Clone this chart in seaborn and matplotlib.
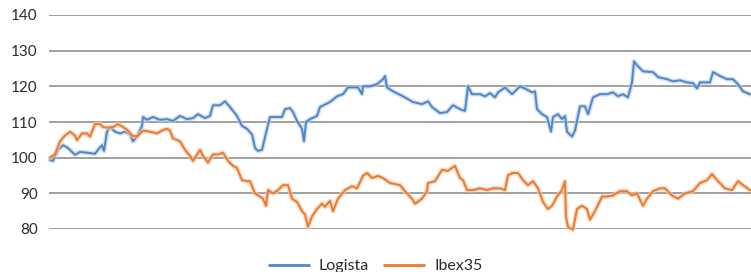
import numpy as np
import pandas as pd
import matplotlib
matplotlib.use("Agg")
import matplotlib.pyplot as plt
import matplotlib.patheffects as pe
from matplotlib.lines import Line2D
import seaborn as sns

# ---- data ----
logista_day = [0, 3, 8, 13, 18, 25, 30, 37, 45, 48, 52, 54, 57, 60, 65, 70, 75, 80, 83, 87,
               92, 93, 97, 103, 110, 117, 123, 130, 137, 143, 148, 155, 160, 163, 170, 175, 180,
               187, 192, 197, 202, 205, 208, 212, 217, 220, 227, 232, 235, 240, 243, 247, 252,
               254, 256, 260, 267, 270, 280, 287, 293, 298, 308, 312, 313, 320, 327, 333, 335,
               337, 343, 353, 363, 372, 378, 382, 390, 397, 403, 410, 415, 418, 422, 430, 435,
               440, 445, 448, 455, 462, 470, 477, 482, 485, 487, 492, 497, 501, 503, 508, 512,
               515, 517, 522, 525, 530, 535, 538, 543, 550, 557, 563, 568, 573, 578, 582, 584,
               588, 593, 603, 608, 617, 623, 630, 637, 643, 647, 650, 660, 663, 670, 677, 683,
               688, 693, 700]
logista_val = [99.4, 99.1, 102.2, 103.5, 102.7, 100.8, 101.6, 101.4, 101.1, 102.2, 103.5, 101.9,
               107.3, 108.6, 107.3, 106.8, 107.3, 106.5, 104.6, 105.9, 108.9, 111.4, 110.6, 111.4,
               110.6, 110.8, 110.3, 111.7, 110.8, 111.1, 112.2, 111.1, 111.7, 114.7, 114.7, 115.8,
               114.2, 111.7, 108.9, 108.1, 106.5, 102.7, 101.9, 102.2, 108.1, 111.4, 111.4, 111.4,
               113.6, 113.9, 112.8, 110.3, 108.1, 104.6, 110.0, 110.8, 111.7, 114.2, 115.6, 117.2,
               117.8, 119.7, 119.7, 117.8, 120.0, 120.0, 120.6, 122.0, 122.9, 119.7, 118.6, 117.2,
               115.6, 115.0, 115.8, 114.2, 112.5, 112.8, 114.7, 113.6, 113.1, 120.0, 117.8, 117.8,
               117.2, 118.1, 116.9, 118.3, 119.7, 117.8, 120.0, 119.1, 118.3, 118.6, 113.6, 112.2,
               111.4, 107.3, 111.4, 112.2, 110.8, 111.7, 107.3, 105.9, 107.6, 114.4, 114.4, 112.2,
               116.9, 117.8, 117.8, 118.3, 117.2, 117.8, 116.9, 121.1, 127.0, 125.6, 124.2, 124.0,
               122.6, 122.0, 121.4, 121.7, 121.1, 120.9, 119.4, 121.1, 121.1, 124.0, 122.9, 122.0,
               122.0, 120.6, 118.6, 117.8]

ibex_day = [0, 5, 10, 15, 20, 25, 27, 32, 37, 40, 45, 50, 53, 58, 63, 68, 73, 78, 82, 87, 93,
            100, 107, 112, 117, 120, 123, 130, 135, 140, 143, 147, 150, 153, 158, 163, 168, 173,
            178, 183, 187, 192, 197, 200, 205, 210, 213, 216, 218, 223, 228, 233, 238, 242, 247,
            252, 255, 258, 262, 267, 272, 275, 280, 283, 288, 295, 302, 307, 313, 317, 322, 328,
            333, 340, 350, 355, 362, 365, 372, 377, 378, 385, 392, 398, 405, 410, 413, 417, 423,
            430, 437, 443, 450, 455, 458, 463, 468, 473, 478, 483, 488, 493, 498, 502, 507, 512,
            515, 516, 518, 523, 527, 532, 537, 540, 545, 552, 557, 563, 570, 577, 582, 587, 593,
            597, 603, 610, 615, 622, 628, 635, 643, 650, 657, 662, 668, 675, 682, 688, 693, 700]
ibex_val = [100.0, 100.9, 104.6, 106.2, 107.3, 106.2, 104.9, 106.8, 106.8, 105.9, 109.4, 109.4,
            108.6, 108.4, 108.6, 109.4, 108.6, 107.6, 106.2, 105.9, 107.6, 107.3, 106.8, 107.6,
            108.1, 107.6, 105.4, 104.6, 102.2, 100.5, 99.1, 100.9, 102.2, 100.5, 98.6, 100.9,
            100.9, 101.4, 99.1, 97.7, 97.1, 93.7, 93.4, 93.4, 90.0, 89.1, 88.5, 86.5, 90.9, 90.0,
            90.9, 92.3, 92.3, 88.5, 87.6, 85.0, 84.1, 80.6, 83.5, 85.6, 87.1, 86.2, 87.9, 85.0,
            88.5, 90.9, 92.0, 91.4, 94.9, 95.7, 94.3, 94.9, 94.3, 92.9, 92.3, 90.6, 88.5, 87.1,
            88.5, 90.6, 92.9, 93.4, 96.6, 96.3, 97.7, 94.3, 93.7, 90.9, 90.9, 91.4, 90.9, 91.4,
            91.4, 90.9, 95.1, 95.7, 95.7, 93.7, 92.3, 93.4, 91.4, 87.6, 85.6, 86.5, 89.1, 90.9,
            93.4, 83.5, 80.6, 79.8, 85.6, 86.5, 85.6, 82.6, 85.0, 89.1, 89.1, 89.4, 90.6, 90.6,
            89.4, 90.0, 86.5, 88.5, 90.6, 91.4, 91.4, 89.4, 88.5, 90.0, 90.6, 92.9, 93.7, 95.4,
            93.4, 91.4, 90.9, 93.4, 92.3, 90.9]

series_names = ["Logista", "Ibex35"]
y_ticks = [80, 90, 100, 110, 120, 130, 140]
colors = ["#4F86C6", "#EB7A2E"]

df = pd.concat([
    pd.DataFrame({"day": logista_day, "value": logista_val, "serie": series_names[0]}),
    pd.DataFrame({"day": ibex_day, "value": ibex_val, "serie": series_names[1]}),
], ignore_index=True)

sns.set_theme(style="white")
plt.rcParams["font.family"] = ["Lato", "DejaVu Sans"]

fig = plt.figure(figsize=(7.51, 2.72), dpi=100)
ax = fig.add_axes([49 / 751, 1 - 229 / 272, 1 - 49 / 751, (229 - 15) / 272])

sns.lineplot(data=df, x="day", y="value", hue="serie", palette=colors,
             sort=False, estimator=None, linewidth=1.4, ax=ax, legend=False)

glows = ["#bcd0ea", "#f5c8a8"]
for line, g in zip(ax.get_lines(), glows):
    line.set_clip_on(False)
    line.set_path_effects([pe.Stroke(linewidth=3.4, foreground=g, alpha=0.7), pe.Normal()])

ax.set_ylim(80, 140)
ax.set_xlim(-1, 701)
ax.set_yticks(y_ticks)
ax.set_yticklabels([str(t) for t in y_ticks])
ax.set_xticks([])
ax.set_xlabel("")
ax.set_ylabel("")
for s in ax.spines.values():
    s.set_visible(False)
ax.yaxis.grid(True, color="#8f8f8f", linewidth=1.2)
ax.set_axisbelow(True)
ax.tick_params(axis="y", length=0, pad=8, labelsize=11, labelcolor="#2b2b2b")

handles = [Line2D([0], [0], color=c, linewidth=2) for c in colors]
fig.legend(handles, series_names, loc="center", bbox_to_anchor=(0.5, 0.022), ncol=2,
           frameon=False, fontsize=11.5, handlelength=2.5, handletextpad=0.6,
           columnspacing=1.0, labelcolor="#2b2b2b")

fig.savefig("out.png", dpi=100)
